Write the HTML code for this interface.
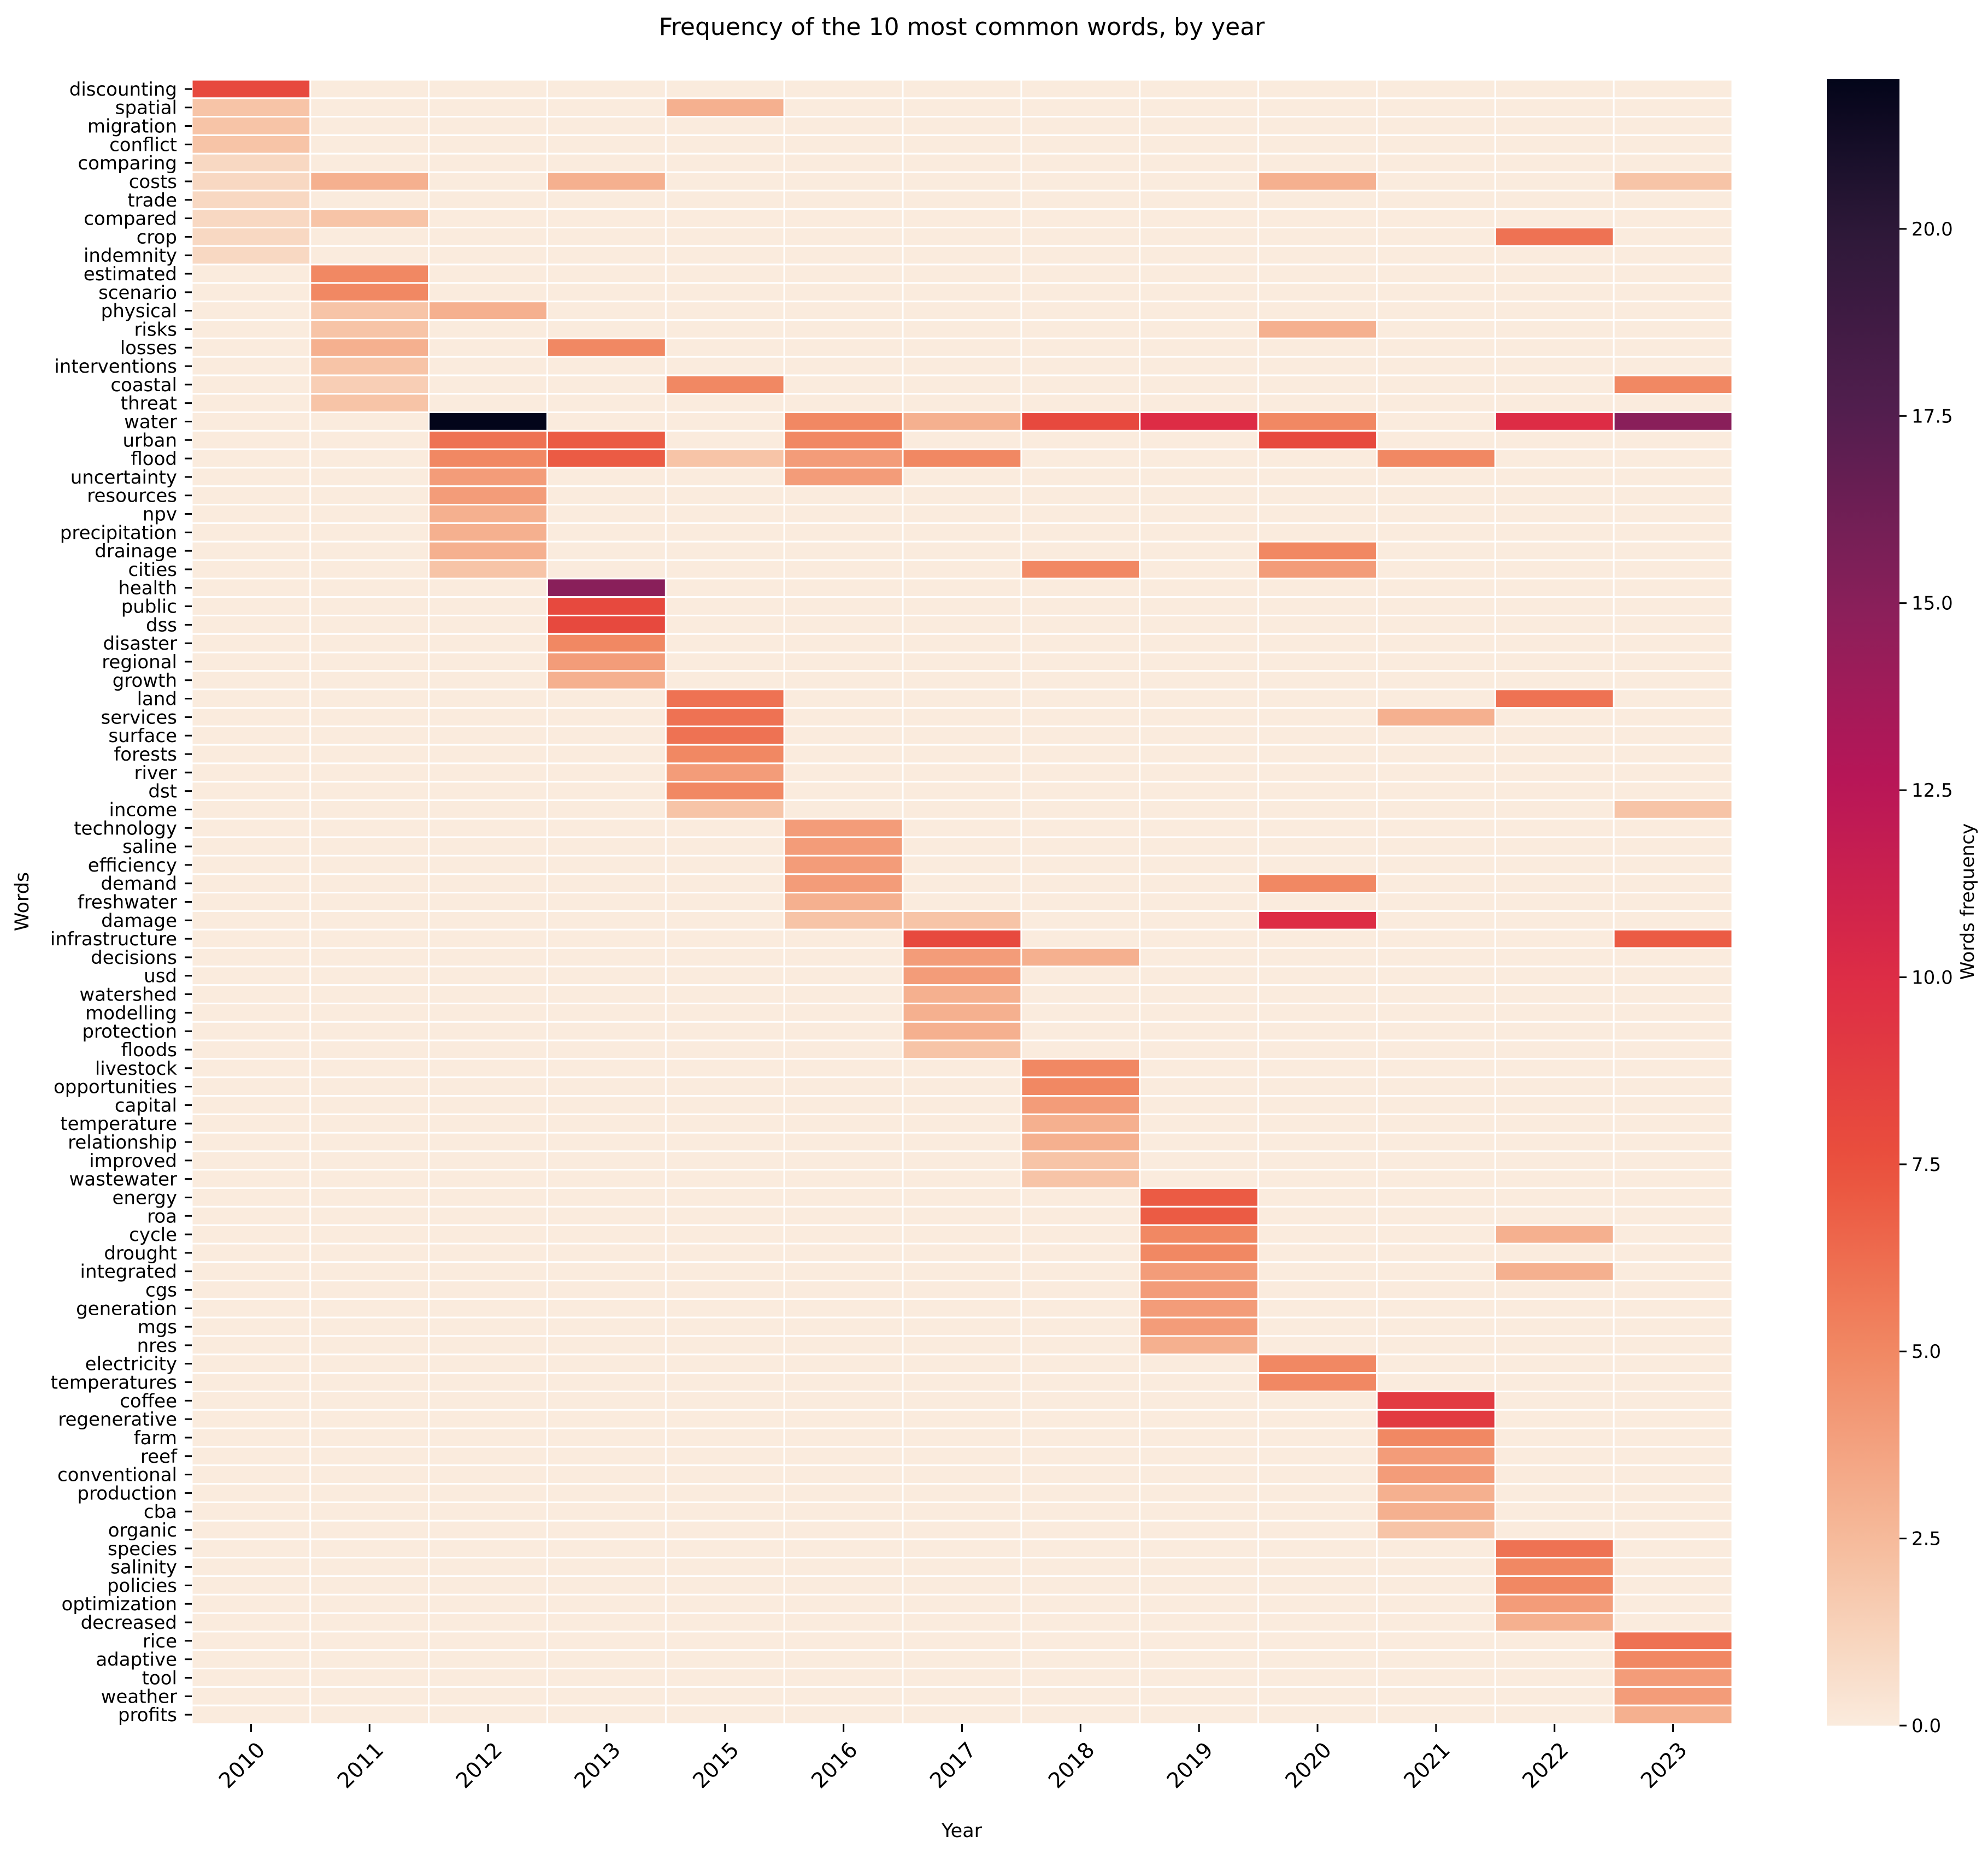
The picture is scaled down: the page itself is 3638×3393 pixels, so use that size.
<!DOCTYPE html>
<html><head><meta charset="utf-8"><style>
html,body{margin:0;padding:0;background:#fff;}
svg{display:block;font-family:"DejaVu Sans","Liberation Sans",sans-serif;}
</style></head><body>
<svg id="chart" width="3638" height="3393" viewBox="0 0 3638 3393" xmlns="http://www.w3.org/2000/svg">
<text x="1760" y="64" font-size="44" text-anchor="middle" fill="#000">Frequency of the 10 most common words, by year</text>
<g id="cells"></g>
<g id="yticks"></g>
<g id="xticks"></g>
<text transform="translate(52,1650) rotate(-90)" font-size="35" text-anchor="middle">Words</text>
<text x="1760" y="3362" font-size="35" text-anchor="middle">Year</text>
<defs><linearGradient id="cbgrad" x1="0" y1="1" x2="0" y2="0"></linearGradient></defs>
<rect x="3343" y="145" width="133" height="3013" fill="url(#cbgrad)"/>
<g id="cbticks"></g>
<text transform="translate(3612,1650) rotate(-90)" font-size="34" text-anchor="middle">Words frequency</text>
</svg>
<script>
const words = ["discounting","spatial","migration","conflict","comparing","costs","trade","compared","crop","indemnity","estimated","scenario","physical","risks","losses","interventions","coastal","threat","water","urban","flood","uncertainty","resources","npv","precipitation","drainage","cities","health","public","dss","disaster","regional","growth","land","services","surface","forests","river","dst","income","technology","saline","efficiency","demand","freshwater","damage","infrastructure","decisions","usd","watershed","modelling","protection","floods","livestock","opportunities","capital","temperature","relationship","improved","wastewater","energy","roa","cycle","drought","integrated","cgs","generation","mgs","nres","electricity","temperatures","coffee","regenerative","farm","reef","conventional","production","cba","organic","species","salinity","policies","optimization","decreased","rice","adaptive","tool","weather","profits"];
const years = ["2010","2011","2012","2013","2015","2016","2017","2018","2019","2020","2021","2022","2023"];
const cbTicks = [0,2.5,5,7.5,10,12.5,15,17.5,20];
const cbTickLabels = ["0.0","2.5","5.0","7.5","10.0","12.5","15.0","17.5","20.0"];
const vmax = 22;
const v2010 = {discounting:8,spatial:2,migration:2,conflict:2,comparing:1,costs:1,trade:1,compared:1,crop:1,indemnity:1};
const v2011 = {costs:3,compared:2,estimated:5,scenario:5,physical:2,risks:2,losses:3,interventions:2,coastal:1.5,threat:2};
const v2012 = {water:22,urban:6,flood:5,uncertainty:4,resources:4,npv:3,precipitation:3,drainage:3,cities:2,physical:3};
const v2013 = {costs:3,losses:5,urban:7,flood:7,health:15,public:8,dss:8,disaster:5,regional:4,growth:3};
const v2015 = {spatial:3,coastal:5,flood:2,land:6,services:6,surface:6,forests:5,river:4,dst:5,income:2};
const v2016 = {water:5,urban:5,flood:4,uncertainty:4,technology:4,saline:4,efficiency:4,demand:4,freshwater:3,damage:2};
const v2017 = {water:3,flood:5,damage:2,infrastructure:8,decisions:4,usd:4,watershed:3,modelling:3,protection:3,floods:2};
const v2018 = {water:8,cities:5,decisions:3,livestock:5,opportunities:5,capital:4,temperature:3,relationship:3,improved:2,wastewater:2};
const v2019 = {water:10,energy:7,roa:7,cycle:5,drought:5,integrated:4,cgs:4,generation:4,mgs:4,nres:3};
const v2020 = {costs:3,risks:3,water:5,urban:8,drainage:5,cities:4,demand:5,damage:10,electricity:5,temperatures:5};
const v2021 = {flood:5,services:3,coffee:9,regenerative:9,farm:5,reef:4,conventional:4,production:3,cba:3,organic:2};
const v2022 = {crop:6,water:10,land:6,cycle:3,integrated:3,species:6,salinity:5,policies:5,optimization:4,decreased:3};
const v2023 = {costs:2,coastal:5,water:15,income:2,infrastructure:7,rice:6,adaptive:5,tool:4,weather:4,profits:3};
const yearValues = [v2010,v2011,v2012,v2013,v2015,v2016,v2017,v2018,v2019,v2020,v2021,v2022,v2023];

const NS = "http://www.w3.org/2000/svg";
const L = 351, R = 3170, T = 146, B = 3155;
const cw = (R - L) / years.length, rh = (B - T) / words.length;
const xPos = i => L + i * cw;
const yPos = i => T + i * rh;
const cbY = v => 3158 - (v / vmax) * (3158 - 145);
const stops = [[0,[3,5,26]],[0.09,[45,24,56]],[0.2,[81,30,78]],[0.32,[138,31,90]],[0.43,[185,22,87]],[0.545,[221,44,69]],[0.66,[234,80,60]],[0.77,[241,135,98]],[0.89,[246,188,156]],[1,[250,235,221]]];
function color(v){
  const t = Math.max(0, Math.min(1, 1 - v / vmax));
  for (let i = 1; i < stops.length; i++) {
    if (t <= stops[i][0]) {
      const a = stops[i-1], b = stops[i], f = (t - a[0]) / (b[0] - a[0]);
      const c = a[1].map((x, k) => Math.round(x + (b[1][k] - x) * f));
      return `rgb(${c[0]},${c[1]},${c[2]})`;
    }
  }
  return "rgb(250,235,221)";
}
function mk(tag, attrs, parent){
  const e = document.createElementNS(NS, tag);
  for (const k in attrs) e.setAttribute(k, attrs[k]);
  parent.appendChild(e);
  return e;
}
const cells = document.getElementById("cells");
years.forEach((yr, ci) => {
  words.forEach((w, ri) => {
    const v = yearValues[ci][w] || 0;
    const r = mk("rect", {x: xPos(ci), y: yPos(ri), width: cw, height: rh, fill: color(v), stroke: "#fff", "stroke-width": 3}, cells);
    
    
  });
});
const yt = document.getElementById("yticks");
words.forEach((w, ri) => {
  const cy = yPos(ri) + rh / 2;
  mk("line", {x1: 338, x2: 351, y1: cy, y2: cy, stroke: "#000", "stroke-width": 3}, yt);
  const t = mk("text", {x: 324, y: cy + 12, "font-size": 34, "text-anchor": "end"}, yt);
  t.textContent = w;
  
  
});
const xt = document.getElementById("xticks");
years.forEach((yr, ci) => {
  const cx = xPos(ci) + cw / 2;
  mk("line", {x1: cx, x2: cx, y1: B, y2: B + 15, stroke: "#000", "stroke-width": 3}, xt);
  const t = mk("text", {transform: `translate(${cx + 8},${B + 30}) rotate(-45)`, "font-size": 39, "text-anchor": "end", "dominant-baseline": "hanging"}, xt);
  t.textContent = yr;
  
  
});
const grad = document.getElementById("cbgrad");
for (let i = 0; i <= 40; i++) {
  const v = vmax * i / 40;
  mk("stop", {offset: (i / 40), "stop-color": color(v)}, grad);
}
const cbt = document.getElementById("cbticks");
cbTicks.forEach((v, i) => {
  const y = cbY(v);
  mk("line", {x1: 3476, x2: 3489, y1: y, y2: y, stroke: "#000", "stroke-width": 3}, cbt);
  const t = mk("text", {x: 3498, y: y + 12, "font-size": 34}, cbt);
  t.textContent = cbTickLabels[i];
  
  
});
</script>
</body></html>
